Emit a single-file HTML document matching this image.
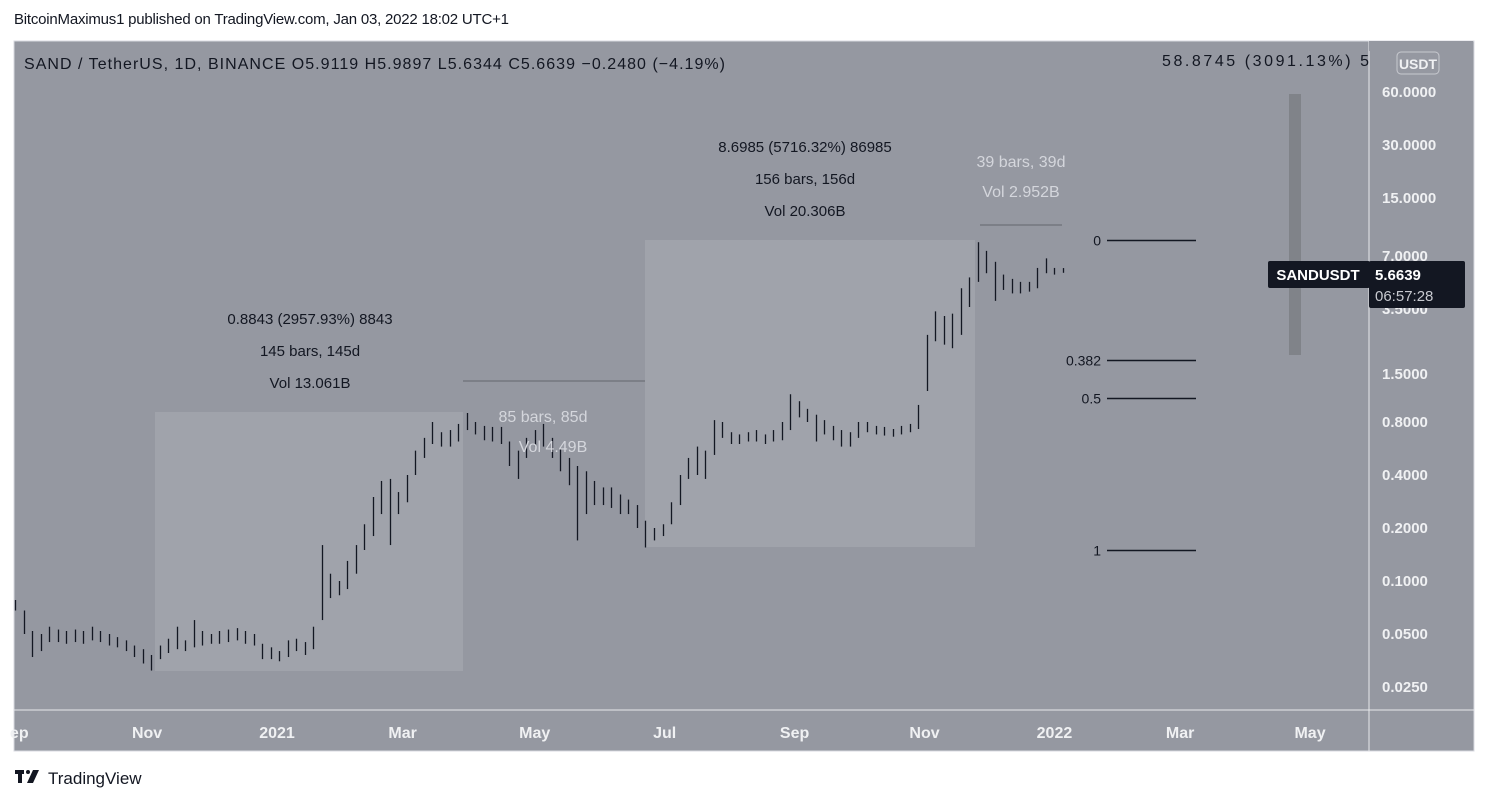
<!DOCTYPE html>
<html><head><meta charset="utf-8"><style>
body{margin:0;background:#fff;width:1489px;height:805px;overflow:hidden;font-family:"Liberation Sans",sans-serif}
svg{position:absolute;left:0;top:0}
</style></head><body>
<svg id="c" width="1489" height="805" xmlns="http://www.w3.org/2000/svg" font-family="Liberation Sans, sans-serif">
<text x="14" y="24" font-size="15" fill="#131722" textLength="495">BitcoinMaximus1 published on TradingView.com, Jan 03, 2022 18:02 UTC+1</text>
<rect x="14" y="41" width="1460" height="710" fill="#9598a1" stroke="#d8dae0"/>
<line x1="1369" y1="41" x2="1369" y2="751" stroke="#e8e9ec"/>
<line x1="14" y1="710" x2="1474" y2="710" stroke="#e8e9ec"/>
<rect x="155" y="412" width="308" height="259" fill="#a0a3ab"/>
<rect x="645" y="240" width="330" height="307" fill="#a0a3ab"/>
<line x1="463" y1="381" x2="645" y2="381" stroke="#7c7f87" stroke-width="2"/>
<line x1="980" y1="225" x2="1062" y2="225" stroke="#7c7f87" stroke-width="2"/>
<rect x="1289" y="94" width="12" height="261" fill="#808389"/>
<g id="bars"></g>
<g font-size="15" fill="#131722" text-anchor="middle">
<text x="310" y="324">0.8843 (2957.93%) 8843</text>
<text x="310" y="356">145 bars, 145d</text>
<text x="310" y="388">Vol 13.061B</text>
<text x="805" y="152">8.6985 (5716.32%) 86985</text>
<text x="805" y="184">156 bars, 156d</text>
<text x="805" y="216">Vol 20.306B</text>
</g>
<g font-size="16" fill="#d4d6dc" text-anchor="middle">
<text x="543" y="422">85 bars, 85d</text>
<text x="553" y="452">Vol 4.49B</text>
<text x="1021" y="167">39 bars, 39d</text>
<text x="1021" y="197">Vol 2.952B</text>
</g>
<text x="1162" y="66" font-size="16" fill="#131722" textLength="207">58.8745 (3091.13%) 5</text>
<rect x="1369" y="41" width="104" height="10" fill="#9598a1"/>
<g id="fib" font-size="14" fill="#131722" text-anchor="end"></g>
<g font-size="16" fill="#131722">
<text x="24" y="69" textLength="701">SAND / TetherUS, 1D, BINANCE  O5.9119  H5.9897  L5.6344  C5.6639  −0.2480 (−4.19%)</text>
</g>
<g id="yticks" font-size="15" font-weight="bold" fill="#f0f1f3"></g>
<rect x="1397" y="52" width="42" height="22" rx="4" fill="#9598a1" stroke="#c8cad0"/>
<text x="1418" y="69" font-size="14" font-weight="bold" fill="#f0f1f3" text-anchor="middle">USDT</text>
<rect x="1268" y="261" width="102" height="27" rx="2" fill="#131722"/>
<text x="1318" y="280" font-size="15" font-weight="bold" fill="#fff" text-anchor="middle">SANDUSDT</text>
<rect x="1369" y="261" width="96" height="47" rx="2" fill="#131722"/>
<text x="1375" y="280" font-size="15" font-weight="bold" fill="#fff">5.6639</text>
<text x="1375" y="301" font-size="15" fill="#c8cad0">06:57:28</text>
<g id="xticks" font-size="16" font-weight="bold" fill="#f0f1f3" text-anchor="middle"></g>
<g>
<rect x="15" y="770" width="9" height="4" fill="#131722"/><rect x="18" y="770" width="4" height="13" fill="#131722"/>
<circle cx="28" cy="772" r="2" fill="#131722"/><polygon points="33,770 39,770 33,783 27,783" fill="#131722"/>
<text x="48" y="784" font-size="17" fill="#131722">TradingView</text>
</g>
</svg>
<script>
const highs=[.078,.068,.052,.05,.055,.053,.052,.053,.052,.055,.052,.05,.048,.046,.043,.041,.038,.043,.047,.055,.046,.06,.052,.05,.052,.053,.054,.052,.05,.044,.042,.04,.046,.047,.045,.055,.16,.11,.10,.13,.16,.21,.30,.37,.38,.32,.40,.55,.65,.80,.70,.72,.78,.90,.80,.76,.75,.75,.62,.55,.65,.72,.78,.65,.56,.50,.45,.42,.37,.34,.34,.31,.29,.27,.22,.20,.21,.28,.40,.50,.58,.55,.82,.80,.70,.68,.70,.72,.68,.72,.80,1.15,1.05,.95,.88,.82,.76,.72,.70,.80,.80,.76,.75,.73,.76,.78,1.0,2.5,3.4,3.2,3.3,4.6,5.3,8.4,7.5,6.5,5.5,5.2,5.0,5.0,6.0,6.8,6.0,5.99];
const lows=[.068,.050,.037,.04,.045,.045,.044,.045,.044,.046,.045,.043,.042,.04,.037,.034,.031,.036,.039,.041,.040,.042,.043,.044,.044,.045,.046,.044,.043,.036,.036,.035,.037,.040,.038,.041,.06,.08,.083,.09,.11,.15,.18,.24,.16,.24,.28,.40,.50,.60,.58,.58,.62,.72,.68,.63,.62,.60,.45,.38,.50,.58,.58,.50,.42,.35,.17,.24,.27,.27,.26,.24,.24,.20,.155,.17,.18,.21,.27,.38,.40,.38,.52,.65,.60,.60,.62,.62,.60,.62,.63,.72,.85,.80,.62,.68,.63,.58,.58,.65,.70,.68,.67,.66,.68,.70,.73,1.2,2.3,2.2,2.1,2.5,3.6,5.0,5.6,3.9,4.5,4.3,4.3,4.4,4.6,5.6,5.5,5.63];
const priceTicks=["120.0000","60.0000","30.0000","15.0000","7.0000","3.5000","1.5000","0.8000","0.4000","0.2000","0.1000","0.0500","0.0250"];
const monthLabels=["ep","Nov","2021","Mar","May","Jul","Sep","Nov","2022","Mar","May"];
const monthDays=[2,62,123,182,244,305,366,427,488,547,608];
const fibLevels=["0","0.382","0.5","1"];
const fibValues=[8.6,1.8,1.1,0.15];
const NS="http://www.w3.org/2000/svg";
const yScale=v=>581-53*Math.log2(v/0.1);
const xScale=d=>15+2.13*d;
const DAY_STEP=4;
function mk(t,a,p){const e=document.createElementNS(NS,t);for(const k in a)e.setAttribute(k,a[k]);p.appendChild(e);return e;}
const bg=document.getElementById('bars');
highs.forEach((h,i)=>{const x=Math.round(xScale(i*DAY_STEP))+0.5;
const l=mk('line',{x1:x,x2:x,y1:yScale(h),y2:yScale(lows[i]),stroke:'#131722','stroke-width':1.3},bg);

});
const yt=document.getElementById('yticks');
priceTicks.forEach(t=>{const y=yScale(parseFloat(t));if(y<41)return;const e=mk('text',{x:1382,y:y+5},yt);e.textContent=t;

});
const xt=document.getElementById('xticks');
monthLabels.forEach((m,i)=>{const e=mk('text',{x:xScale(monthDays[i]),y:738},xt);e.textContent=m;

});
const fg=document.getElementById('fib');
fibLevels.forEach((f,i)=>{const y=Math.round(yScale(fibValues[i]))+0.5;
const l=mk('line',{x1:1107,x2:1196,y1:y,y2:y,stroke:'#131722','stroke-width':1.5},fg);


const t=mk('text',{x:1101,y:y+5},fg);t.textContent=f;

});
</script>
</body></html>
